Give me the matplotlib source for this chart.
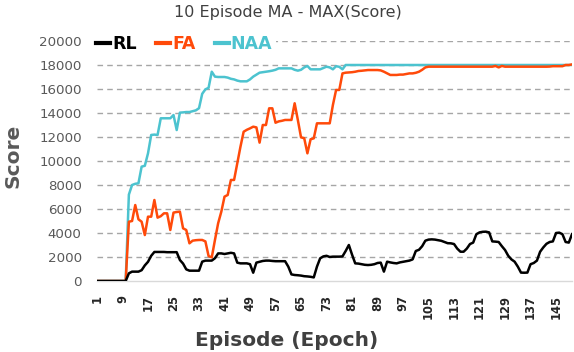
import matplotlib
matplotlib.use("Agg")
import matplotlib.pyplot as plt
from matplotlib.lines import Line2D

episodes = list(range(1, 151))

rl = [0, 0, 0, 0, 0, 0, 0, 0, 0, 0,
      640, 780, 780, 780, 900, 1300, 1600, 2100, 2420, 2420,
      2420, 2420, 2400, 2400, 2400, 2400, 1750, 1450, 970, 860,
      860, 860, 860, 1610, 1700, 1700, 1700, 1900, 2300, 2300,
      2250, 2300, 2350, 2300, 1530, 1470, 1470, 1470, 1400, 690,
      1530, 1600, 1670, 1700, 1700, 1670, 1650, 1650, 1650, 1650,
      1200, 550, 500, 480, 450, 400, 380, 350, 300, 1200,
      1890, 2050, 2100, 2000, 2030, 2030, 2030, 2050, 2500, 3000,
      2200, 1470, 1450, 1400, 1350, 1330, 1350, 1400, 1500, 1530,
      780, 1610, 1550, 1500, 1470, 1550, 1600, 1650, 1700, 1800,
      2500, 2600, 2900, 3360, 3450, 3470, 3450, 3400, 3350, 3250,
      3150, 3140, 3080, 2700, 2440, 2440, 2700, 3080, 3200, 3900,
      4050, 4100, 4110, 4050, 3300, 3280, 3250, 2900, 2580, 2100,
      1800, 1610, 1200, 700, 690, 700, 1400, 1500, 1700, 2440,
      2800, 3100, 3250, 3300, 4000, 4030, 3900, 3250, 3200, 3900]

fa = [0, 0, 0, 0, 0, 0, 0, 0, 0, 0,
      4940, 5000, 6330, 5140, 4940, 3830, 5360, 5360, 6750, 5280,
      5400, 5640, 5640, 4250, 5700, 5750, 5780, 4390, 4250, 3140,
      3360, 3400, 3420, 3420, 3300, 2080, 1970, 3420, 4810, 5780,
      7030, 7170, 8420, 8420, 9810, 11190, 12440, 12600, 12720, 12860,
      12800, 11530, 13000, 13000, 14390, 14390, 13190, 13300, 13350, 13420,
      13420, 13420, 14810, 13420, 11970, 11900, 10640, 11810, 11890, 13140,
      13140, 13140, 13140, 13140, 14670, 15920, 15920, 17300, 17360, 17380,
      17400, 17440, 17500, 17520, 17550, 17580, 17580, 17580, 17580, 17550,
      17440, 17300, 17170, 17170, 17170, 17200, 17200, 17250, 17300, 17300,
      17350, 17440, 17600, 17800, 17860, 17860, 17860, 17860, 17860, 17860,
      17860, 17860, 17860, 17860, 17860, 17860, 17860, 17860, 17860, 17860,
      17860, 17860, 17860, 17860, 17860, 17920, 17800, 17920, 17860, 17860,
      17860, 17860, 17860, 17860, 17860, 17860, 17860, 17860, 17860, 17860,
      17860, 17860, 17870, 17900, 17900, 17900, 17900, 18000, 18000, 18050]

naa = [0, 0, 0, 0, 0, 0, 0, 0, 0, 0,
       7200, 8000, 8100, 8140, 9530, 9600, 10640, 12170, 12200, 12170,
       13560, 13560, 13560, 13560, 13830, 12580, 14030, 14050, 14080, 14080,
       14150, 14220, 14400, 15600, 15970, 16100, 17440, 17030, 17000, 17000,
       17000, 16950, 16850, 16800, 16700, 16640, 16640, 16640, 16800, 17030,
       17200, 17360, 17400, 17440, 17480, 17530, 17600, 17720, 17720, 17720,
       17720, 17720, 17600, 17530, 17600, 17800, 17920, 17640, 17640, 17640,
       17640, 17750, 17860, 17800, 17640, 17900, 17850, 17640, 18000, 18000] + [18000] * 70

x_ticks = list(range(1, 151, 8))
y_ticks = list(range(0, 20001, 2000))

C_RL = "#000000"
C_FA = "#FF4A0A"
C_NAA = "#4CC3CF"

fig = plt.figure(figsize=(5.74, 3.52), dpi=100)
ax = fig.add_axes([97 / 574, 1 - 281 / 352, (572 - 97) / 574, (281 - 41) / 352])

ax.plot(episodes, naa, color=C_NAA, lw=1.8, solid_joinstyle="round", zorder=3)
ax.plot(episodes, fa, color=C_FA, lw=1.8, solid_joinstyle="round", zorder=4)
ax.plot(episodes, rl, color=C_RL, lw=1.8, solid_joinstyle="round", zorder=5)

ax.set_xlim(1, 150)
ax.set_ylim(0, 20000)
ax.set_yticks(y_ticks)
ax.set_yticklabels([str(v) for v in y_ticks], fontsize=9.6, color="#595959",
                   family="DejaVu Sans")
ax.set_xticks(x_ticks)
ax.set_xticklabels([str(v) for v in x_ticks], rotation=90, fontsize=8.3,
                   fontweight="bold", color="#262626", family="DejaVu Sans")
ax.tick_params(axis="y", length=0, pad=11)
ax.tick_params(axis="x", length=0, pad=10)

for v in y_ticks[1:]:
    ax.axhline(v, color="#A6A6A6", lw=1.0, ls=(0, (4, 3)), zorder=1)
for s in ["top", "right", "left"]:
    ax.spines[s].set_visible(False)
ax.spines["bottom"].set_color("#D9D9D9")
ax.spines["bottom"].set_linewidth(1.0)

fig.text(288 / 574, 1 - 12 / 352, "10 Episode MA - MAX(Score)", ha="center", va="center",
         fontsize=11.5, color="#404040", family="DejaVu Sans")
fig.text(13 / 574, 1 - 156 / 352, "Score", rotation=90, ha="center", va="center",
         fontsize=14.5, color="#595959", family="DejaVu Sans", fontweight="bold")
fig.text(287 / 574, 1 - 340 / 352, "Episode (Epoch)", ha="center", va="center",
         fontsize=14.5, color="#404040", family="DejaVu Sans", fontweight="bold")

handles = [Line2D([], [], color=c, lw=3) for c in (C_RL, C_FA, C_NAA)]
leg = fig.legend(handles, ["RL", "FA", "NAA"], loc="upper left",
                 bbox_to_anchor=(93 / 574, 1 - 32 / 352), ncol=3, frameon=True,
                 handlelength=0.8, handletextpad=0.12, columnspacing=1.1,
                 borderpad=0.2, borderaxespad=0,
                 prop={"family": "DejaVu Sans", "weight": "bold", "size": 12.5})
leg.get_frame().set_facecolor("white")
leg.get_frame().set_edgecolor("none")
leg.get_frame().set_alpha(1)
for t, c in zip(leg.get_texts(), (C_RL, C_FA, C_NAA)):
    t.set_color(c)

fig.savefig("out.png", dpi=100)
